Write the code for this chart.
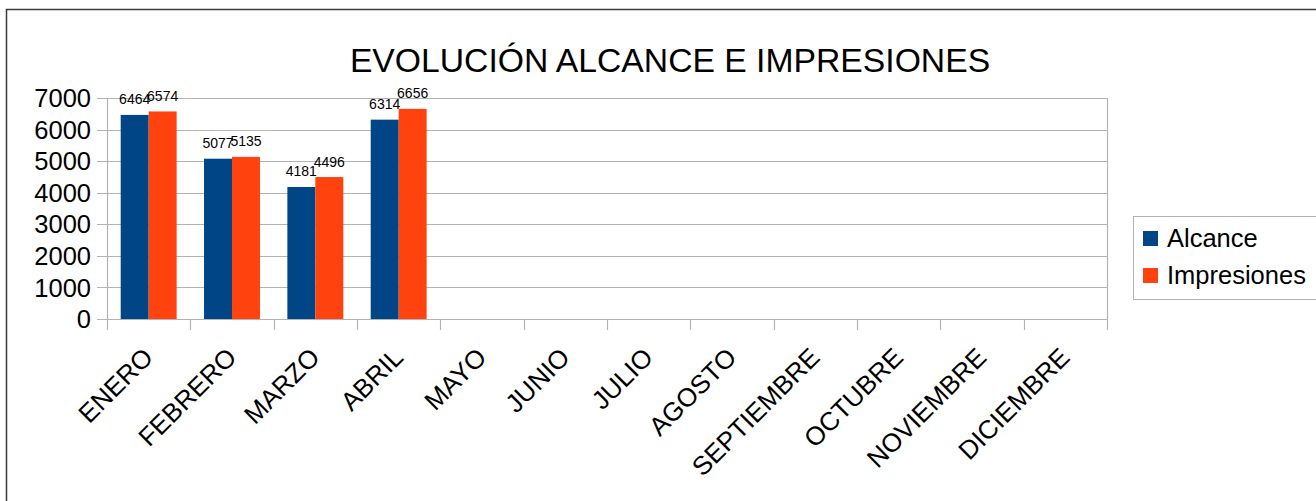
<!DOCTYPE html>
<html>
<head>
<meta charset="utf-8">
<script src="https://cdn.jsdelivr.net/npm/d3@7"></script>
<style>
  body { margin: 0; background: #fff; }
  svg { display: block; font-family: "Liberation Sans", Arial, sans-serif; }
</style>
</head>
<body>
<script>
const width = 1316;
const height = 501;
const margin = { top: 98, right: 209, bottom: 182, left: 107 };

const months = [
  "ENERO", "FEBRERO", "MARZO", "ABRIL", "MAYO", "JUNIO",
  "JULIO", "AGOSTO", "SEPTIEMBRE", "OCTUBRE", "NOVIEMBRE", "DICIEMBRE"
];
const seriesNames = ["Alcance", "Impresiones"];
const seriesColors = ["#004586", "#ff420e"];
const alcance = [6464, 5077, 4181, 6314];
const impresiones = [6574, 5135, 4496, 6656];
const yTicks = [0, 1000, 2000, 3000, 4000, 5000, 6000, 7000];

const rows = alcance.map((v, i) => ({
  month: months[i],
  values: [
    { key: seriesNames[0], value: v },
    { key: seriesNames[1], value: impresiones[i] }
  ]
}));

const svg = d3
  .select("body")
  .append("svg")
  .attr("width", width)
  .attr("height", height);

// outer frame (only top and left edges are visible)
svg
  .append("rect")
  .attr("x", 6.5)
  .attr("y", 9.5)
  .attr("width", width + 20)
  .attr("height", height + 20)
  .attr("fill", "none")
  .attr("stroke", "#3a3a3a")
  .attr("stroke-width", 1.5);

svg
  .append("text")
  .attr("x", 670)
  .attr("y", 72)
  .attr("text-anchor", "middle")
  .style("font-size", "33.7px")
  .style("fill", "#000")
  .text("EVOLUCIÓN ALCANCE E IMPRESIONES");

const x0 = d3
  .scaleBand()
  .domain(months)
  .range([margin.left, width - margin.right]);

const x1 = d3
  .scaleBand()
  .domain(seriesNames)
  .range([0, x0.bandwidth()])
  .paddingOuter(0.49);

const y = d3
  .scaleLinear()
  .domain([0, 7000])
  .range([height - margin.bottom, margin.top]);

const plotBottom = height - margin.bottom;
const plotRight = width - margin.right;
const grey = "#b3b3b3";

// horizontal grid + left tick stubs
svg
  .append("g")
  .selectAll("line")
  .data(yTicks)
  .enter()
  .append("line")
  .attr("x1", margin.left - 10)
  .attr("x2", plotRight)
  .attr("y1", (d) => Math.round(y(d)) + 0.5)
  .attr("y2", (d) => Math.round(y(d)) + 0.5)
  .attr("stroke", grey)
  .attr("stroke-width", 1.2);

// vertical boundary lines at both ends and tick marks below axis
const boundaries = months.map((m) => x0(m)).concat([plotRight]);
svg
  .append("g")
  .selectAll("line")
  .data(boundaries)
  .enter()
  .append("line")
  .attr("x1", (d) => Math.round(d) + 0.5)
  .attr("x2", (d) => Math.round(d) + 0.5)
  .attr("y1", (d, i) => (i === 0 || i === boundaries.length - 1 ? margin.top : plotBottom))
  .attr("y2", plotBottom + 11)
  .attr("stroke", grey)
  .attr("stroke-width", 1.2);

svg
  .append("g")
  .selectAll("text")
  .data(yTicks)
  .enter()
  .append("text")
  .attr("x", margin.left - 16)
  .attr("y", (d) => y(d))
  .attr("dy", "0.36em")
  .attr("text-anchor", "end")
  .style("font-size", "25.5px")
  .style("fill", "#000")
  .text((d) => d);

const groups = svg
  .append("g")
  .selectAll("g")
  .data(rows)
  .enter()
  .append("g")
  .attr("transform", (d) => `translate(${x0(d.month)},0)`);

groups
  .selectAll("rect")
  .data((d) => d.values)
  .enter()
  .append("rect")
  .attr("x", (d) => x1(d.key))
  .attr("y", (d) => y(d.value))
  .attr("width", x1.bandwidth())
  .attr("height", (d) => plotBottom - y(d.value))
  .attr("fill", (d, i) => seriesColors[i]);

groups
  .selectAll("text")
  .data((d) => d.values)
  .enter()
  .append("text")
  .attr("x", (d) => x1(d.key) + x1.bandwidth() / 2)
  .attr("y", (d) => y(d.value) - 10.5)
  .attr("text-anchor", "middle")
  .style("font-size", "14px")
  .style("fill", "#000")
  .text((d) => d.value);

// rotated month labels
svg
  .append("g")
  .selectAll("text")
  .data(months)
  .enter()
  .append("text")
  .attr(
    "transform",
    (d) => `translate(${x0(d) + x0.bandwidth() / 2 + 6},${plotBottom + 40}) rotate(-45)`
  )
  .attr("text-anchor", "end")
  .style("font-size", "26px")
  .style("fill", "#000")
  .text((d) => d);

// legend
const legend = svg.append("g").attr("transform", "translate(1133,216)");

legend
  .append("rect")
  .attr("x", 0.5)
  .attr("y", 0.5)
  .attr("width", 200)
  .attr("height", 83)
  .attr("fill", "#fff")
  .attr("stroke", grey);

seriesNames.forEach((name, i) => {
  legend
    .append("rect")
    .attr("x", 10)
    .attr("y", 15 + i * 37)
    .attr("width", 15)
    .attr("height", 15)
    .attr("fill", seriesColors[i]);
  legend
    .append("text")
    .attr("x", 34)
    .attr("y", 31 + i * 37)
    .style("font-size", "25.5px")
    .style("fill", "#000")
    .text(name);
});
</script>
</body>
</html>
